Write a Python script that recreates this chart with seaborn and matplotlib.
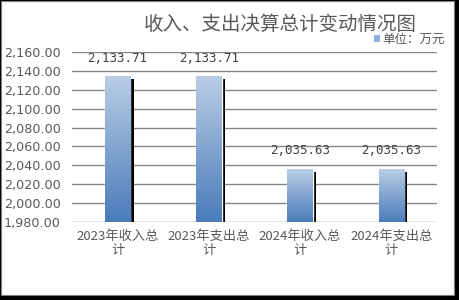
import numpy as np
import pandas as pd
import matplotlib
matplotlib.use("Agg")
import matplotlib.pyplot as plt
import matplotlib.patheffects as pe
from matplotlib.colors import LinearSegmentedColormap
import seaborn as sns

categories = ["2023年收入总\n计", "2023年支出总\n计", "2024年收入总\n计", "2024年支出总\n计"]
values = [2133.71, 2133.71, 2035.63, 2035.63]
y_ticks = [1980, 2000, 2020, 2040, 2060, 2080, 2100, 2120, 2140, 2160]
title = "收入、支出决算总计变动情况图"
legend_label = "单位：万元"

sns.set_theme(style="white")
plt.rcParams['font.family'] = ['Noto Sans CJK SC', 'DejaVu Sans']

df = pd.DataFrame({"cat": categories, "val": values})

fig = plt.figure(figsize=(4.59, 3.0), dpi=100, facecolor="black")
# white panel with black frame
fig.patches.append(plt.Rectangle((1/459, 5/300), 453/459, 294/300, transform=fig.transFigure,
                                 facecolor="white", edgecolor="#7f7f7f", linewidth=0.8, zorder=-1))
ax = fig.add_axes([72/459, 78/300, 365/459, 170/300])
ax.set_facecolor("none")

sns.barplot(data=df, x="cat", y="val", ax=ax, color="#4f81bd", width=0.28,
            saturation=1, zorder=3)
ax.set_ylim(y_ticks[0], y_ticks[-1])
ax.set_yticks(y_ticks)
ax.set_yticklabels([f"{t:,.2f}" for t in y_ticks], fontsize=9.2, color="#595959",
                   family=['DejaVu Sans'])
ax.tick_params(axis="y", length=0, pad=8)
ax.tick_params(axis="x", length=0, pad=6)
for lbl in ax.get_xticklabels():
    lbl.set_fontsize(9.5)
    lbl.set_color("#595959")
    lbl.set_linespacing(1.05)
ax.set_xlabel("")
ax.set_ylabel("")
for s in ax.spines.values():
    s.set_visible(False)
for t in y_ticks:
    ax.axhline(t, color="#868686", linewidth=1.0, zorder=1)

cmap = LinearSegmentedColormap.from_list("g", ["#4a7cba", "#b9cde5"])
grad = np.linspace(0, 1, 256).reshape(-1, 1)
ybot = y_ticks[0]
for p in ax.patches:
    p.set_path_effects([pe.SimplePatchShadow(offset=(2.4, -1.8), shadow_rgbFace="black", alpha=1.0),
                        pe.Normal()])
    x0, y0, w, h = p.get_x(), p.get_y(), p.get_width(), p.get_height()
    im = ax.imshow(grad, extent=[x0, x0 + w, ybot, y0 + h], origin="lower", cmap=cmap,
                   aspect="auto", zorder=4)
ax.set_xlim(-0.5, 3.5)
ax.set_ylim(y_ticks[0], y_ticks[-1])

for i, v in enumerate(values):
    ax.text(i, v + 13, f"{v:,.2f}", ha="center", va="bottom", fontsize=9,
            color="#404040", family=['DejaVu Sans Mono'], zorder=5)

fig.text(0.61, 0.92, title, ha="center", va="center", fontsize=14, color="#595959")

handle = plt.Rectangle((0, 0), 1, 1, facecolor="#8eaedb", edgecolor="none")
fig.legend([handle], [legend_label], loc="center left", bbox_to_anchor=(374/459, 1 - 39/300),
           frameon=False, fontsize=9, labelcolor="#595959", handlelength=0.5, handleheight=0.5,
           handletextpad=0.2, borderpad=0, borderaxespad=0)

fig.savefig("out.png", dpi=100, facecolor="black")
